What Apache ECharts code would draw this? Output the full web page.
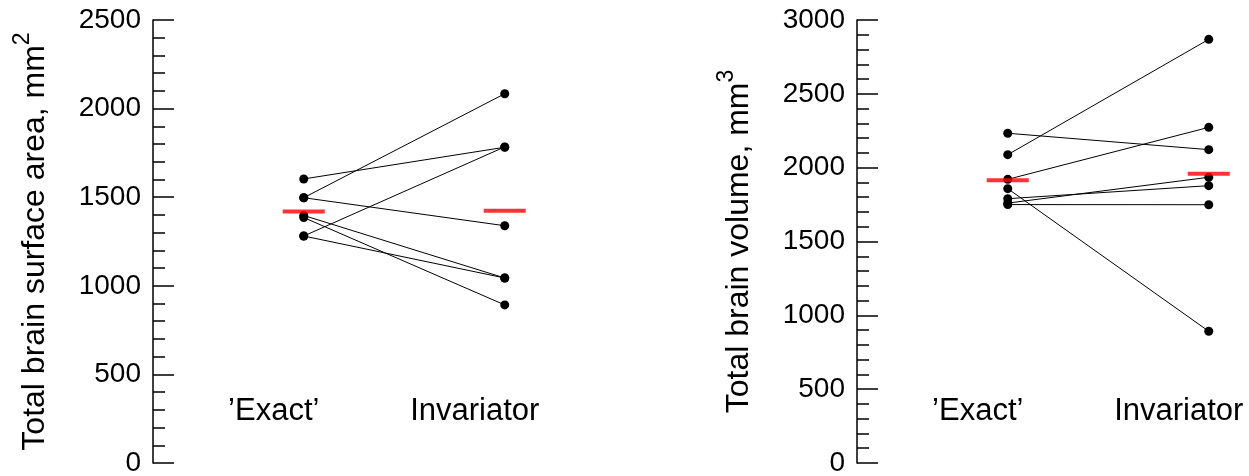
<!DOCTYPE html>
<html>
<head>
<meta charset="utf-8">
<script src="https://cdn.jsdelivr.net/npm/echarts@6/dist/echarts.min.js"></script>
<style>
html,body{margin:0;padding:0;background:#fff;}
#c{width:1249px;height:476px;}
</style>
</head>
<body>
<div id="c"></div>
<script>
// ---- data ----
const categories = ['\u2019Exact\u2019', 'Invariator'];
const categoryX = [1, 2];

// Left panel: total brain surface area (mm^2), paired subjects
const areaExact = [1603, 1497, 1497, 1397, 1385, 1281, 1281];
const areaInvariator = [1782, 2084, 1339, 1044, 892, 1784, 1044];
const areaMean = [1420, 1424];
const areaTicks = { min: 0, max: 2500, interval: 500 };

// Right panel: total brain volume (mm^3), paired subjects
const volExact = [2233, 2088, 1921, 1858, 1790, 1760, 1750];
const volInvariator = [2122, 2869, 2273, 892, 1878, 1935, 1749];
const volMean = [1914, 1959];
const volTicks = { min: 0, max: 3000, interval: 500 };

const FONT = "'Liberation Sans', Arial, sans-serif";

function pairSeries(exact, inv, axisIdx) {
  return exact.map((v, i) => ({
    type: 'line',
    xAxisIndex: axisIdx, yAxisIndex: axisIdx,
    data: [[categoryX[0], v], [categoryX[1], inv[i]]],
    symbol: 'circle', symbolSize: 9,
    itemStyle: { color: '#000' },
    lineStyle: { color: '#000', width: 1 },
    z: 2, silent: true
  }));
}
function meanSeries(mean, axisIdx) {
  return {
    type: 'scatter',
    xAxisIndex: axisIdx, yAxisIndex: axisIdx,
    data: mean.map((m, i) => [categoryX[i], m]),
    symbol: 'rect', symbolSize: [42, 4],
    itemStyle: { color: '#ff0000' },
    z: 5, silent: true
  };
}
function xAxisDef(idx) {
  return {
    type: 'value', gridIndex: idx, min: 0.25, max: 2.25, interval: 0.25,
    axisLine: { show: false }, axisTick: { show: false }, splitLine: { show: false },
    axisLabel: {
      inside: true, margin: 36, fontSize: 31, color: '#000', fontFamily: FONT,
      padding: [0, 60, 0, 0],
      formatter: v => (v === categoryX[0] ? categories[0] : v === categoryX[1] ? categories[1] : '')
    }
  };
}
function yAxisDef(idx, ticks, title, sup) {
  return {
    type: 'value', gridIndex: idx, min: ticks.min, max: ticks.max, interval: ticks.interval,
    name: '{t|' + title + '}{s|' + sup + '}',
    nameLocation: 'middle', nameRotate: 90, nameGap: 94,
    nameTextStyle: {
      rich: {
        t: { fontSize: 32, fontFamily: FONT, color: '#000', lineHeight: 48 },
        s: { fontSize: 23, fontFamily: FONT, color: '#000', verticalAlign: 'top', lineHeight: 23 }
      }
    },
    axisLine: { show: true, lineStyle: { color: '#000', width: 1.5 } },
    axisTick: { show: true, inside: true, length: 21, lineStyle: { color: '#000', width: 1.5 } },
    minorTick: { show: true, splitNumber: 5, length: 12, lineStyle: { color: '#000', width: 1.5 } },
    splitLine: { show: false },
    axisLabel: { fontSize: 28, color: '#000', fontFamily: FONT, margin: 12, formatter: v => String(v) }
  };
}

const chart = echarts.init(document.getElementById('c'), null, { renderer: 'canvas' });
chart.setOption({
  animation: false,
  backgroundColor: '#fff',
  grid: [
    { left: 153, top: 20, width: 402, height: 443, outerBoundsMode: 'none', containLabel: false },
    { left: 857, top: 20, width: 402, height: 443, outerBoundsMode: 'none', containLabel: false }
  ],
  xAxis: [xAxisDef(0), xAxisDef(1)],
  yAxis: [
    yAxisDef(0, areaTicks, 'Total brain surface area, mm', '2'),
    yAxisDef(1, volTicks, 'Total brain volume, mm', '3')
  ],
  series: [
    ...pairSeries(areaExact, areaInvariator, 0),
    meanSeries(areaMean, 0),
    ...pairSeries(volExact, volInvariator, 1),
    meanSeries(volMean, 1)
  ]
});
</script>
</body>
</html>
